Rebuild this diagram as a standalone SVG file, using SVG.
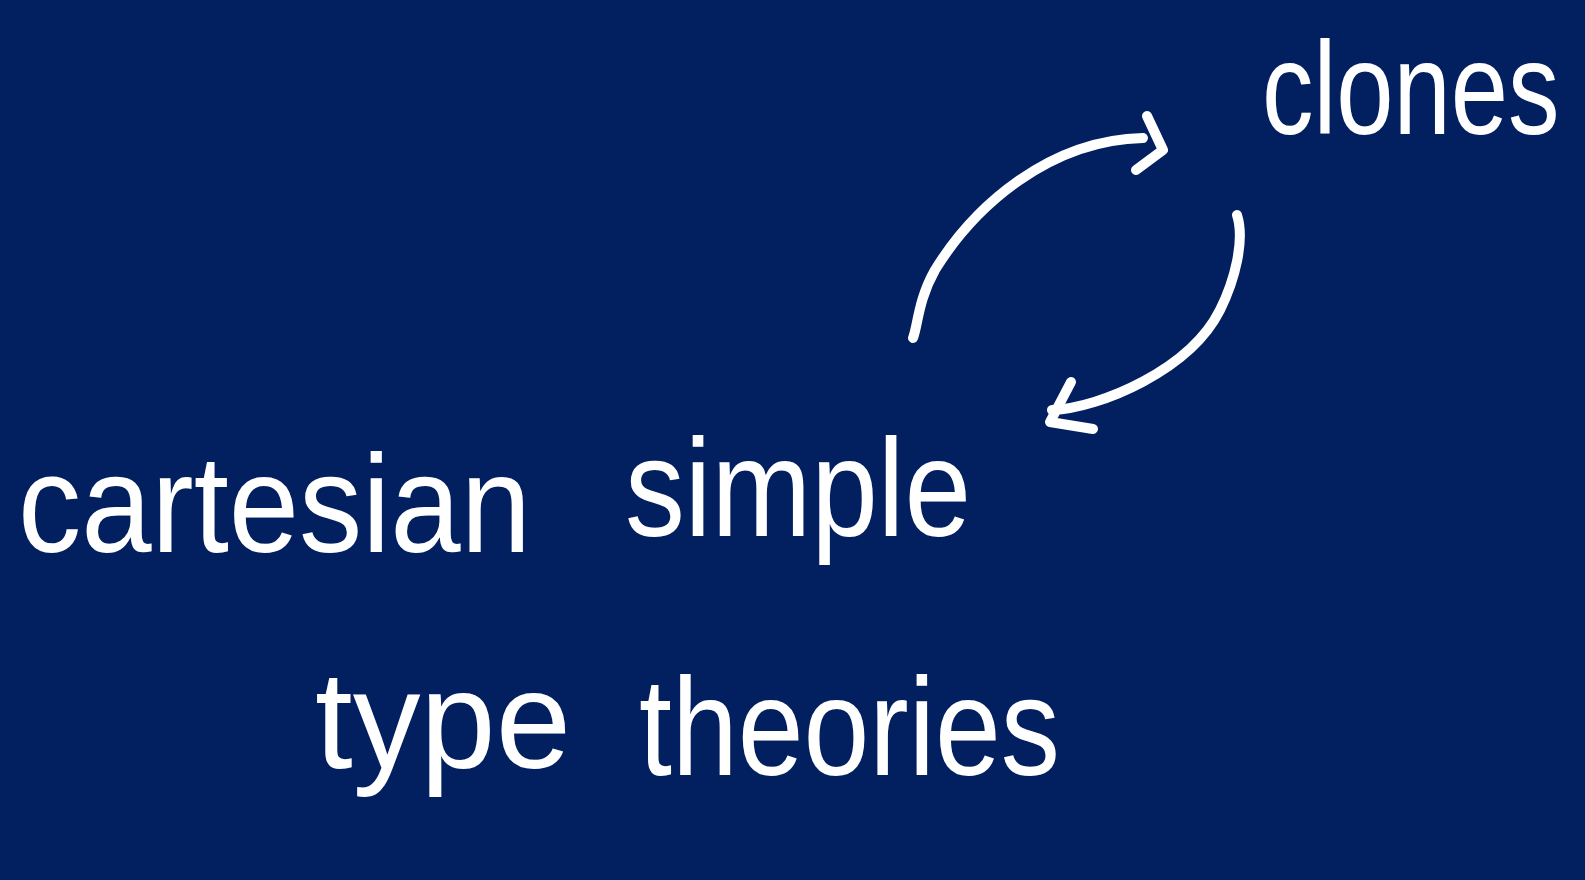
<svg xmlns="http://www.w3.org/2000/svg" width="1585" height="880" viewBox="0 0 1585 880">
<style>
.t{font-family:"Liberation Sans",Arial,sans-serif;font-size:140px;fill:#ffffff;}
.c{fill:none;stroke:#ffffff;stroke-width:10;stroke-linecap:round;stroke-linejoin:round;}
</style>
<rect x="0" y="0" width="1585" height="880" fill="#021f5f"/>
<g id="clones"><text class="t" transform="translate(1262,134) scale(0.78,1)" x="0" y="0" style="font-size:132px">clones</text></g>
<g id="cartesian-simple-type-theories">
<text class="t" x="18" y="552" textLength="513" lengthAdjust="spacingAndGlyphs">cartesian</text>
<text class="t" x="625" y="536" textLength="346" lengthAdjust="spacingAndGlyphs">simple</text>
<text class="t" x="315" y="768" textLength="256" lengthAdjust="spacingAndGlyphs">type</text>
<text class="t" x="639" y="775" textLength="421" lengthAdjust="spacingAndGlyphs">theories</text>
</g>
<g id="connectors">
<path class="c" d="M913,338 C918,325 918,300 935,270 C975,205 1050,140 1143,138"/>
<path class="c" d="M1147,116 L1163,150 L1136,170"/>
<path class="c" d="M1237,215 C1245,240 1235,280 1220,310 C1190,370 1100,408 1052,410"/>
<path class="c" d="M1071,382 L1050,422 L1093,429"/>
</g>
</svg>
